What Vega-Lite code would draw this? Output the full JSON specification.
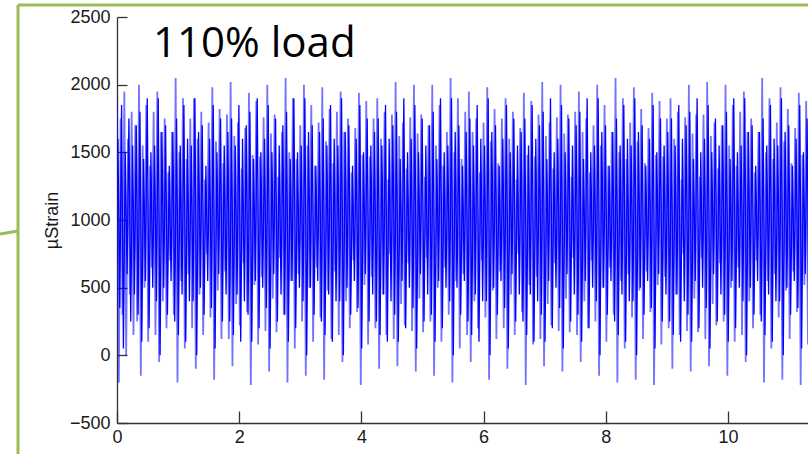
{
"$schema": "https://vega.github.io/schema/vega-lite/v6.json",
"width": 691, "height": 406,
"autosize": {"type": "none"},
"padding": {"left": 117, "top": 17, "right": 0, "bottom": 31},
"background": "white",
"config": {"view": {"stroke": null}},
"datasets": {
"frame": [{"t":-1.62,"v":2589,"t2":-1.62,"v2":-800},{"t":-1.62,"v":2589,"t2":13,"v2":2589},{"t":-1.915,"v":896,"t2":-1.62,"v2":919}],
"note": [{"t":0.59,"v":2204,"label":"110% load"}],
"signal": [
{"t":0,"v":1900},{"t":0.03,"v":-200},{"t":0.06,"v":1750},{"t":0.09,"v":300},{"t":0.12,"v":1950},{"t":0.15,"v":0},{"t":0.18,"v":1600},{"t":0.21,"v":450},{"t":0.24,"v":1800},{"t":0.27,"v":150},
{"t":0.3,"v":1700},{"t":0.33,"v":250},{"t":0.36,"v":2000},{"t":0.39,"v":-150},{"t":0.42,"v":1550},{"t":0.45,"v":500},{"t":0.48,"v":1850},{"t":0.51,"v":100},{"t":0.54,"v":1400},{"t":0.57,"v":650},
{"t":0.6,"v":1800},{"t":0.63,"v":150},{"t":0.66,"v":1950},{"t":0.69,"v":-50},{"t":0.72,"v":1650},{"t":0.75,"v":400},{"t":0.78,"v":1750},{"t":0.81,"v":200},{"t":0.84,"v":1350},{"t":0.87,"v":700},
{"t":0.9,"v":1650},{"t":0.93,"v":300},{"t":0.96,"v":2050},{"t":0.99,"v":-200},{"t":1.02,"v":1500},{"t":1.05,"v":550},{"t":1.08,"v":1900},{"t":1.11,"v":50},{"t":1.14,"v":1450},{"t":1.17,"v":600},
{"t":1.2,"v":1750},{"t":1.23,"v":200},{"t":1.26,"v":1900},{"t":1.29,"v":-100},{"t":1.32,"v":1600},{"t":1.35,"v":450},{"t":1.38,"v":1800},{"t":1.41,"v":150},{"t":1.44,"v":1300},{"t":1.47,"v":750},
{"t":1.5,"v":1720},{"t":1.53,"v":280},{"t":1.56,"v":1980},{"t":1.59,"v":-180},{"t":1.62,"v":1580},{"t":1.65,"v":480},{"t":1.68,"v":1820},{"t":1.71,"v":120},{"t":1.74,"v":1420},{"t":1.77,"v":620},
{"t":1.8,"v":1780},{"t":1.83,"v":120},{"t":1.86,"v":2020},{"t":1.89,"v":-80},{"t":1.92,"v":1620},{"t":1.95,"v":380},{"t":1.98,"v":1720},{"t":2.01,"v":220},{"t":2.04,"v":1380},{"t":2.07,"v":680},
{"t":2.1,"v":1680},{"t":2.13,"v":320},{"t":2.16,"v":1940},{"t":2.19,"v":-220},{"t":2.22,"v":1480},{"t":2.25,"v":520},{"t":2.28,"v":1880},{"t":2.31,"v":80},{"t":2.34,"v":1470},{"t":2.37,"v":580},
{"t":2.4,"v":1760},{"t":2.43,"v":180},{"t":2.46,"v":2000},{"t":2.49,"v":-120},{"t":2.52,"v":1640},{"t":2.55,"v":420},{"t":2.58,"v":1780},{"t":2.61,"v":170},{"t":2.64,"v":1320},{"t":2.67,"v":720},
{"t":2.7,"v":1650},{"t":2.73,"v":300},{"t":2.76,"v":2050},{"t":2.79,"v":-200},{"t":2.82,"v":1500},{"t":2.85,"v":550},{"t":2.88,"v":1900},{"t":2.91,"v":50},{"t":2.94,"v":1450},{"t":2.97,"v":600},
{"t":3,"v":1700},{"t":3.03,"v":250},{"t":3.06,"v":2000},{"t":3.09,"v":-150},{"t":3.12,"v":1550},{"t":3.15,"v":500},{"t":3.18,"v":1850},{"t":3.21,"v":100},{"t":3.24,"v":1400},{"t":3.27,"v":650},
{"t":3.3,"v":1720},{"t":3.33,"v":280},{"t":3.36,"v":1980},{"t":3.39,"v":-180},{"t":3.42,"v":1580},{"t":3.45,"v":480},{"t":3.48,"v":1820},{"t":3.51,"v":120},{"t":3.54,"v":1420},{"t":3.57,"v":620},
{"t":3.6,"v":1800},{"t":3.63,"v":150},{"t":3.66,"v":1950},{"t":3.69,"v":-50},{"t":3.72,"v":1650},{"t":3.75,"v":400},{"t":3.78,"v":1750},{"t":3.81,"v":200},{"t":3.84,"v":1350},{"t":3.87,"v":700},
{"t":3.9,"v":1680},{"t":3.93,"v":320},{"t":3.96,"v":1940},{"t":3.99,"v":-220},{"t":4.02,"v":1480},{"t":4.05,"v":520},{"t":4.08,"v":1880},{"t":4.11,"v":80},{"t":4.14,"v":1470},{"t":4.17,"v":580},
{"t":4.2,"v":1750},{"t":4.23,"v":200},{"t":4.26,"v":1900},{"t":4.29,"v":-100},{"t":4.32,"v":1600},{"t":4.35,"v":450},{"t":4.38,"v":1800},{"t":4.41,"v":150},{"t":4.44,"v":1300},{"t":4.47,"v":750},
{"t":4.5,"v":1780},{"t":4.53,"v":120},{"t":4.56,"v":2020},{"t":4.59,"v":-80},{"t":4.62,"v":1620},{"t":4.65,"v":380},{"t":4.68,"v":1720},{"t":4.71,"v":220},{"t":4.74,"v":1380},{"t":4.77,"v":680},
{"t":4.8,"v":1760},{"t":4.83,"v":180},{"t":4.86,"v":2000},{"t":4.89,"v":-120},{"t":4.92,"v":1640},{"t":4.95,"v":420},{"t":4.98,"v":1780},{"t":5.01,"v":170},{"t":5.04,"v":1320},{"t":5.07,"v":720},
{"t":5.1,"v":1700},{"t":5.13,"v":250},{"t":5.16,"v":2000},{"t":5.19,"v":-150},{"t":5.22,"v":1550},{"t":5.25,"v":500},{"t":5.28,"v":1850},{"t":5.31,"v":100},{"t":5.34,"v":1400},{"t":5.37,"v":650},
{"t":5.4,"v":1650},{"t":5.43,"v":300},{"t":5.46,"v":2050},{"t":5.49,"v":-200},{"t":5.52,"v":1500},{"t":5.55,"v":550},{"t":5.58,"v":1900},{"t":5.61,"v":50},{"t":5.64,"v":1450},{"t":5.67,"v":600},
{"t":5.7,"v":1800},{"t":5.73,"v":150},{"t":5.76,"v":1950},{"t":5.79,"v":-50},{"t":5.82,"v":1650},{"t":5.85,"v":400},{"t":5.88,"v":1750},{"t":5.91,"v":200},{"t":5.94,"v":1350},{"t":5.97,"v":700},
{"t":6,"v":1720},{"t":6.03,"v":280},{"t":6.06,"v":1980},{"t":6.09,"v":-180},{"t":6.12,"v":1580},{"t":6.15,"v":480},{"t":6.18,"v":1820},{"t":6.21,"v":120},{"t":6.24,"v":1420},{"t":6.27,"v":620},
{"t":6.3,"v":1750},{"t":6.33,"v":200},{"t":6.36,"v":1900},{"t":6.39,"v":-100},{"t":6.42,"v":1600},{"t":6.45,"v":450},{"t":6.48,"v":1800},{"t":6.51,"v":150},{"t":6.54,"v":1300},{"t":6.57,"v":750},
{"t":6.6,"v":1680},{"t":6.63,"v":320},{"t":6.66,"v":1940},{"t":6.69,"v":-220},{"t":6.72,"v":1480},{"t":6.75,"v":520},{"t":6.78,"v":1880},{"t":6.81,"v":80},{"t":6.84,"v":1470},{"t":6.87,"v":580},
{"t":6.9,"v":1780},{"t":6.93,"v":120},{"t":6.96,"v":2020},{"t":6.99,"v":-80},{"t":7.02,"v":1620},{"t":7.05,"v":380},{"t":7.08,"v":1720},{"t":7.11,"v":220},{"t":7.14,"v":1380},{"t":7.17,"v":680},
{"t":7.2,"v":1760},{"t":7.23,"v":180},{"t":7.26,"v":2000},{"t":7.29,"v":-120},{"t":7.32,"v":1640},{"t":7.35,"v":420},{"t":7.38,"v":1780},{"t":7.41,"v":170},{"t":7.44,"v":1320},{"t":7.47,"v":720},
{"t":7.5,"v":1800},{"t":7.53,"v":150},{"t":7.56,"v":1950},{"t":7.59,"v":-50},{"t":7.62,"v":1650},{"t":7.65,"v":400},{"t":7.68,"v":1750},{"t":7.71,"v":200},{"t":7.74,"v":1350},{"t":7.77,"v":700},
{"t":7.8,"v":1700},{"t":7.83,"v":250},{"t":7.86,"v":2000},{"t":7.89,"v":-150},{"t":7.92,"v":1550},{"t":7.95,"v":500},{"t":7.98,"v":1850},{"t":8.01,"v":100},{"t":8.04,"v":1400},{"t":8.07,"v":650},
{"t":8.1,"v":1650},{"t":8.13,"v":300},{"t":8.16,"v":2050},{"t":8.19,"v":-200},{"t":8.22,"v":1500},{"t":8.25,"v":550},{"t":8.28,"v":1900},{"t":8.31,"v":50},{"t":8.34,"v":1450},{"t":8.37,"v":600},
{"t":8.4,"v":1720},{"t":8.43,"v":280},{"t":8.46,"v":1980},{"t":8.49,"v":-180},{"t":8.52,"v":1580},{"t":8.55,"v":480},{"t":8.58,"v":1820},{"t":8.61,"v":120},{"t":8.64,"v":1420},{"t":8.67,"v":620},
{"t":8.7,"v":1680},{"t":8.73,"v":320},{"t":8.76,"v":1940},{"t":8.79,"v":-220},{"t":8.82,"v":1480},{"t":8.85,"v":520},{"t":8.88,"v":1880},{"t":8.91,"v":80},{"t":8.94,"v":1470},{"t":8.97,"v":580},
{"t":9,"v":1750},{"t":9.03,"v":200},{"t":9.06,"v":1900},{"t":9.09,"v":-100},{"t":9.12,"v":1600},{"t":9.15,"v":450},{"t":9.18,"v":1800},{"t":9.21,"v":150},{"t":9.24,"v":1300},{"t":9.27,"v":750},
{"t":9.3,"v":1760},{"t":9.33,"v":180},{"t":9.36,"v":2000},{"t":9.39,"v":-120},{"t":9.42,"v":1640},{"t":9.45,"v":420},{"t":9.48,"v":1780},{"t":9.51,"v":170},{"t":9.54,"v":1320},{"t":9.57,"v":720},
{"t":9.6,"v":1780},{"t":9.63,"v":120},{"t":9.66,"v":2020},{"t":9.69,"v":-80},{"t":9.72,"v":1620},{"t":9.75,"v":380},{"t":9.78,"v":1720},{"t":9.81,"v":220},{"t":9.84,"v":1380},{"t":9.87,"v":680},
{"t":9.9,"v":1700},{"t":9.93,"v":250},{"t":9.96,"v":2000},{"t":9.99,"v":-150},{"t":10.02,"v":1550},{"t":10.05,"v":500},{"t":10.08,"v":1850},{"t":10.11,"v":100},{"t":10.14,"v":1400},{"t":10.17,"v":650},
{"t":10.2,"v":1800},{"t":10.23,"v":150},{"t":10.26,"v":1950},{"t":10.29,"v":-50},{"t":10.32,"v":1650},{"t":10.35,"v":400},{"t":10.38,"v":1750},{"t":10.41,"v":200},{"t":10.44,"v":1350},{"t":10.47,"v":700},
{"t":10.5,"v":1650},{"t":10.53,"v":300},{"t":10.56,"v":2050},{"t":10.59,"v":-200},{"t":10.62,"v":1500},{"t":10.65,"v":550},{"t":10.68,"v":1900},{"t":10.71,"v":50},{"t":10.74,"v":1450},{"t":10.77,"v":600},
{"t":10.8,"v":1720},{"t":10.83,"v":280},{"t":10.86,"v":1980},{"t":10.89,"v":-180},{"t":10.92,"v":1580},{"t":10.95,"v":480},{"t":10.98,"v":1820},{"t":11.01,"v":120},{"t":11.04,"v":1420},{"t":11.07,"v":620},
{"t":11.1,"v":1680},{"t":11.13,"v":320},{"t":11.16,"v":1940},{"t":11.19,"v":-220},{"t":11.22,"v":1480},{"t":11.25,"v":520},{"t":11.28,"v":1880},{"t":11.31,"v":80},{"t":11.34,"v":1470},{"t":11.37,"v":580}
],
"signal2": [
{"t":0.015,"v":1600},{"t":0.045,"v":350},{"t":0.075,"v":1850},{"t":0.105,"v":50},{"t":0.135,"v":1500},{"t":0.165,"v":600},{"t":0.195,"v":1750},{"t":0.225,"v":250},{"t":0.255,"v":1550},{"t":0.285,"v":450},
{"t":0.315,"v":1700},{"t":0.345,"v":300},{"t":0.375,"v":1800},{"t":0.405,"v":100},{"t":0.435,"v":1450},{"t":0.465,"v":550},{"t":0.495,"v":1900},{"t":0.525,"v":200},{"t":0.555,"v":1500},{"t":0.585,"v":500},
{"t":0.615,"v":1550},{"t":0.645,"v":400},{"t":0.675,"v":1900},{"t":0.705,"v":0},{"t":0.735,"v":1650},{"t":0.765,"v":500},{"t":0.795,"v":1700},{"t":0.825,"v":300},{"t":0.855,"v":1400},{"t":0.885,"v":550},
{"t":0.915,"v":1650},{"t":0.945,"v":250},{"t":0.975,"v":1750},{"t":1.005,"v":150},{"t":1.035,"v":1550},{"t":1.065,"v":450},{"t":1.095,"v":1850},{"t":1.125,"v":100},{"t":1.155,"v":1600},{"t":1.185,"v":400},
{"t":1.215,"v":1550},{"t":1.245,"v":400},{"t":1.275,"v":1900},{"t":1.305,"v":0},{"t":1.335,"v":1650},{"t":1.365,"v":500},{"t":1.395,"v":1700},{"t":1.425,"v":300},{"t":1.455,"v":1400},{"t":1.485,"v":550},
{"t":1.515,"v":1600},{"t":1.545,"v":350},{"t":1.575,"v":1850},{"t":1.605,"v":50},{"t":1.635,"v":1500},{"t":1.665,"v":600},{"t":1.695,"v":1750},{"t":1.725,"v":250},{"t":1.755,"v":1550},{"t":1.785,"v":450},
{"t":1.815,"v":1650},{"t":1.845,"v":250},{"t":1.875,"v":1750},{"t":1.905,"v":150},{"t":1.935,"v":1550},{"t":1.965,"v":450},{"t":1.995,"v":1850},{"t":2.025,"v":100},{"t":2.055,"v":1600},{"t":2.085,"v":400},
{"t":2.115,"v":1700},{"t":2.145,"v":300},{"t":2.175,"v":1800},{"t":2.205,"v":100},{"t":2.235,"v":1450},{"t":2.265,"v":550},{"t":2.295,"v":1900},{"t":2.325,"v":200},{"t":2.355,"v":1500},{"t":2.385,"v":500},
{"t":2.415,"v":1600},{"t":2.445,"v":350},{"t":2.475,"v":1850},{"t":2.505,"v":50},{"t":2.535,"v":1500},{"t":2.565,"v":600},{"t":2.595,"v":1750},{"t":2.625,"v":250},{"t":2.655,"v":1550},{"t":2.685,"v":450},
{"t":2.715,"v":1700},{"t":2.745,"v":300},{"t":2.775,"v":1800},{"t":2.805,"v":100},{"t":2.835,"v":1450},{"t":2.865,"v":550},{"t":2.895,"v":1900},{"t":2.925,"v":200},{"t":2.955,"v":1500},{"t":2.985,"v":500},
{"t":3.015,"v":1550},{"t":3.045,"v":400},{"t":3.075,"v":1900},{"t":3.105,"v":0},{"t":3.135,"v":1650},{"t":3.165,"v":500},{"t":3.195,"v":1700},{"t":3.225,"v":300},{"t":3.255,"v":1400},{"t":3.285,"v":550},
{"t":3.315,"v":1650},{"t":3.345,"v":250},{"t":3.375,"v":1750},{"t":3.405,"v":150},{"t":3.435,"v":1550},{"t":3.465,"v":450},{"t":3.495,"v":1850},{"t":3.525,"v":100},{"t":3.555,"v":1600},{"t":3.585,"v":400},
{"t":3.615,"v":1550},{"t":3.645,"v":400},{"t":3.675,"v":1900},{"t":3.705,"v":0},{"t":3.735,"v":1650},{"t":3.765,"v":500},{"t":3.795,"v":1700},{"t":3.825,"v":300},{"t":3.855,"v":1400},{"t":3.885,"v":550},
{"t":3.915,"v":1600},{"t":3.945,"v":350},{"t":3.975,"v":1850},{"t":4.005,"v":50},{"t":4.035,"v":1500},{"t":4.065,"v":600},{"t":4.095,"v":1750},{"t":4.125,"v":250},{"t":4.155,"v":1550},{"t":4.185,"v":450},
{"t":4.215,"v":1650},{"t":4.245,"v":250},{"t":4.275,"v":1750},{"t":4.305,"v":150},{"t":4.335,"v":1550},{"t":4.365,"v":450},{"t":4.395,"v":1850},{"t":4.425,"v":100},{"t":4.455,"v":1600},{"t":4.485,"v":400},
{"t":4.515,"v":1700},{"t":4.545,"v":300},{"t":4.575,"v":1800},{"t":4.605,"v":100},{"t":4.635,"v":1450},{"t":4.665,"v":550},{"t":4.695,"v":1900},{"t":4.725,"v":200},{"t":4.755,"v":1500},{"t":4.785,"v":500},
{"t":4.815,"v":1600},{"t":4.845,"v":350},{"t":4.875,"v":1850},{"t":4.905,"v":50},{"t":4.935,"v":1500},{"t":4.965,"v":600},{"t":4.995,"v":1750},{"t":5.025,"v":250},{"t":5.055,"v":1550},{"t":5.085,"v":450},
{"t":5.115,"v":1700},{"t":5.145,"v":300},{"t":5.175,"v":1800},{"t":5.205,"v":100},{"t":5.235,"v":1450},{"t":5.265,"v":550},{"t":5.295,"v":1900},{"t":5.325,"v":200},{"t":5.355,"v":1500},{"t":5.385,"v":500},
{"t":5.415,"v":1550},{"t":5.445,"v":400},{"t":5.475,"v":1900},{"t":5.505,"v":0},{"t":5.535,"v":1650},{"t":5.565,"v":500},{"t":5.595,"v":1700},{"t":5.625,"v":300},{"t":5.655,"v":1400},{"t":5.685,"v":550},
{"t":5.715,"v":1650},{"t":5.745,"v":250},{"t":5.775,"v":1750},{"t":5.805,"v":150},{"t":5.835,"v":1550},{"t":5.865,"v":450},{"t":5.895,"v":1850},{"t":5.925,"v":100},{"t":5.955,"v":1600},{"t":5.985,"v":400},
{"t":6.015,"v":1550},{"t":6.045,"v":400},{"t":6.075,"v":1900},{"t":6.105,"v":0},{"t":6.135,"v":1650},{"t":6.165,"v":500},{"t":6.195,"v":1700},{"t":6.225,"v":300},{"t":6.255,"v":1400},{"t":6.285,"v":550},
{"t":6.315,"v":1600},{"t":6.345,"v":350},{"t":6.375,"v":1850},{"t":6.405,"v":50},{"t":6.435,"v":1500},{"t":6.465,"v":600},{"t":6.495,"v":1750},{"t":6.525,"v":250},{"t":6.555,"v":1550},{"t":6.585,"v":450},
{"t":6.615,"v":1650},{"t":6.645,"v":250},{"t":6.675,"v":1750},{"t":6.705,"v":150},{"t":6.735,"v":1550},{"t":6.765,"v":450},{"t":6.795,"v":1850},{"t":6.825,"v":100},{"t":6.855,"v":1600},{"t":6.885,"v":400},
{"t":6.915,"v":1700},{"t":6.945,"v":300},{"t":6.975,"v":1800},{"t":7.005,"v":100},{"t":7.035,"v":1450},{"t":7.065,"v":550},{"t":7.095,"v":1900},{"t":7.125,"v":200},{"t":7.155,"v":1500},{"t":7.185,"v":500},
{"t":7.215,"v":1600},{"t":7.245,"v":350},{"t":7.275,"v":1850},{"t":7.305,"v":50},{"t":7.335,"v":1500},{"t":7.365,"v":600},{"t":7.395,"v":1750},{"t":7.425,"v":250},{"t":7.455,"v":1550},{"t":7.485,"v":450},
{"t":7.515,"v":1700},{"t":7.545,"v":300},{"t":7.575,"v":1800},{"t":7.605,"v":100},{"t":7.635,"v":1450},{"t":7.665,"v":550},{"t":7.695,"v":1900},{"t":7.725,"v":200},{"t":7.755,"v":1500},{"t":7.785,"v":500},
{"t":7.815,"v":1550},{"t":7.845,"v":400},{"t":7.875,"v":1900},{"t":7.905,"v":0},{"t":7.935,"v":1650},{"t":7.965,"v":500},{"t":7.995,"v":1700},{"t":8.025,"v":300},{"t":8.055,"v":1400},{"t":8.085,"v":550},
{"t":8.115,"v":1650},{"t":8.145,"v":250},{"t":8.175,"v":1750},{"t":8.205,"v":150},{"t":8.235,"v":1550},{"t":8.265,"v":450},{"t":8.295,"v":1850},{"t":8.325,"v":100},{"t":8.355,"v":1600},{"t":8.385,"v":400},
{"t":8.415,"v":1550},{"t":8.445,"v":400},{"t":8.475,"v":1900},{"t":8.505,"v":0},{"t":8.535,"v":1650},{"t":8.565,"v":500},{"t":8.595,"v":1700},{"t":8.625,"v":300},{"t":8.655,"v":1400},{"t":8.685,"v":550},
{"t":8.715,"v":1600},{"t":8.745,"v":350},{"t":8.775,"v":1850},{"t":8.805,"v":50},{"t":8.835,"v":1500},{"t":8.865,"v":600},{"t":8.895,"v":1750},{"t":8.925,"v":250},{"t":8.955,"v":1550},{"t":8.985,"v":450},
{"t":9.015,"v":1650},{"t":9.045,"v":250},{"t":9.075,"v":1750},{"t":9.105,"v":150},{"t":9.135,"v":1550},{"t":9.165,"v":450},{"t":9.195,"v":1850},{"t":9.225,"v":100},{"t":9.255,"v":1600},{"t":9.285,"v":400},
{"t":9.315,"v":1700},{"t":9.345,"v":300},{"t":9.375,"v":1800},{"t":9.405,"v":100},{"t":9.435,"v":1450},{"t":9.465,"v":550},{"t":9.495,"v":1900},{"t":9.525,"v":200},{"t":9.555,"v":1500},{"t":9.585,"v":500},
{"t":9.615,"v":1600},{"t":9.645,"v":350},{"t":9.675,"v":1850},{"t":9.705,"v":50},{"t":9.735,"v":1500},{"t":9.765,"v":600},{"t":9.795,"v":1750},{"t":9.825,"v":250},{"t":9.855,"v":1550},{"t":9.885,"v":450},
{"t":9.915,"v":1700},{"t":9.945,"v":300},{"t":9.975,"v":1800},{"t":10.005,"v":100},{"t":10.035,"v":1450},{"t":10.065,"v":550},{"t":10.095,"v":1900},{"t":10.125,"v":200},{"t":10.155,"v":1500},{"t":10.185,"v":500},
{"t":10.215,"v":1550},{"t":10.245,"v":400},{"t":10.275,"v":1900},{"t":10.305,"v":0},{"t":10.335,"v":1650},{"t":10.365,"v":500},{"t":10.395,"v":1700},{"t":10.425,"v":300},{"t":10.455,"v":1400},{"t":10.485,"v":550},
{"t":10.515,"v":1650},{"t":10.545,"v":250},{"t":10.575,"v":1750},{"t":10.605,"v":150},{"t":10.635,"v":1550},{"t":10.665,"v":450},{"t":10.695,"v":1850},{"t":10.725,"v":100},{"t":10.755,"v":1600},{"t":10.785,"v":400},
{"t":10.815,"v":1550},{"t":10.845,"v":400},{"t":10.875,"v":1900},{"t":10.905,"v":0},{"t":10.935,"v":1650},{"t":10.965,"v":500},{"t":10.995,"v":1700},{"t":11.025,"v":300},{"t":11.055,"v":1400},{"t":11.085,"v":550},
{"t":11.115,"v":1600},{"t":11.145,"v":350},{"t":11.175,"v":1850},{"t":11.205,"v":50},{"t":11.235,"v":1500},{"t":11.265,"v":600},{"t":11.295,"v":1750},{"t":11.325,"v":250},{"t":11.355,"v":1550},{"t":11.385,"v":450}
]
},
"encoding": {
 "x": {"field": "t", "type": "quantitative", "scale": {"domain": [0, 11.31], "nice": false, "zero": false},
  "axis": {"title": null, "values": [0, 2, 4, 6, 8, 10], "format": "d", "grid": false, "tickSize": -12, "labelPadding": 17, "labelFlush": false, "labelOverlap": false, "labelFont": "Liberation Sans", "labelFontSize": 18, "labelColor": "#1a1a1a", "domainColor": "#333333", "tickColor": "#333333", "domainWidth": 1.3, "tickWidth": 1.3}},
 "y": {"field": "v", "type": "quantitative", "scale": {"domain": [-500, 2500], "nice": false, "zero": false},
  "axis": {"title": "µStrain", "values": [-500, 0, 500, 1000, 1500, 2000, 2500], "format": "d", "grid": false, "tickSize": -10, "labelPadding": 17, "labelFlush": false, "labelOverlap": false, "labelFont": "Liberation Sans", "labelFontSize": 18, "labelColor": "#1a1a1a", "domainColor": "#333333", "tickColor": "#333333", "domainWidth": 1.3, "tickWidth": 1.3, "titleFont": "Liberation Sans", "titleFontSize": 18, "titleFontWeight": "normal", "titleColor": "#1a1a1a", "titlePadding": 8}}
},
"layer": [
{"data": {"name": "signal"},
 "mark": {"type": "line", "color": "#0000ff", "strokeWidth": 1.8, "opacity": 0.55, "clip": true}},
{"data": {"name": "signal2"},
 "mark": {"type": "line", "color": "#0000ff", "strokeWidth": 1.3, "clip": true}},
{"data": {"name": "frame"},
 "mark": {"type": "rule", "color": "#9bbb59", "strokeWidth": 3, "clip": false},
 "encoding": {"x2": {"field": "t2"}, "y2": {"field": "v2"}}},
{"data": {"name": "note"},
 "mark": {"type": "text", "font": "Open Sans", "fontSize": 42, "align": "left", "baseline": "alphabetic", "color": "#000000"},
 "encoding": {"text": {"field": "label"}}}
]
}
